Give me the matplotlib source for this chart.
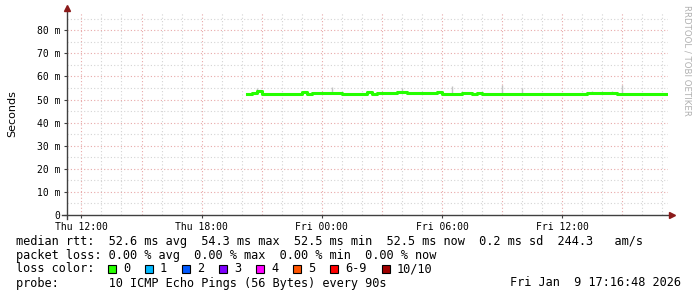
import numpy as np
import matplotlib
matplotlib.use('Agg')
import matplotlib.pyplot as plt
import matplotlib.patches as mpatches

W, H = 697, 297

# time window in hours counted from Thu 00:00
t_start = 11.28
t_end = 41.28
data_start = 20.25      # first sample, Thu 20:15
data_step = 0.25        # 15 min per sample

# median rtt in ms, one value per 15 min
median_ms = [52.4, 52.9, 53.6, 52.5, 52.4, 52.5, 52.4, 52.4, 52.4, 52.4,
             52.6, 53.3, 52.5, 52.9, 52.9, 52.9, 52.9, 52.9, 52.8, 52.5,
             52.5, 52.5, 52.6, 52.5, 53.1, 52.6, 52.9, 52.9, 52.9, 52.9,
             53.4, 53.2, 52.8, 52.8, 52.8, 52.8, 52.8, 52.8, 53.2, 52.5,
             52.4, 52.4, 52.5, 52.8, 52.8, 52.5, 52.8, 52.4, 52.4, 52.4,
             52.4, 52.4, 52.4, 52.4, 52.4, 52.5, 52.4, 52.4, 52.4, 52.4,
             52.4, 52.4, 52.4, 52.4, 52.4, 52.5, 52.4, 52.4, 52.8, 52.8,
             52.8, 52.8, 52.8, 52.8, 52.4, 52.5, 52.4, 52.4, 52.6, 52.6,
             52.5, 52.4, 52.4, 52.4, 52.4]

# smoke spikes (sample index, top in ms)
spike_idx = [2, 17, 31, 41, 51, 55, 69, 73, 75]
spike_top = [54.9, 55.4, 54.8, 56.0, 56.4, 55.0, 53.5, 53.8, 56.4]

yticks = [0, 10, 20, 30, 40, 50, 60, 70, 80]
ytick_labels = ['0', '10 m', '20 m', '30 m', '40 m', '50 m', '60 m', '70 m', '80 m']
xticks = [12, 18, 24, 30, 36]
xtick_labels = ['Thu 12:00', 'Thu 18:00', 'Fri 00:00', 'Fri 06:00', 'Fri 12:00']

loss_names = ['0', '1', '2', '3', '4', '5', '6-9', '10/10']
loss_colors = ['#26ff00', '#00b8ff', '#0059ff', '#7e00ff', '#ff00ff', '#ff5500', '#ff0000', '#a00000']

legend_lines = [
    'median rtt:  52.6 ms avg  54.3 ms max  52.5 ms min  52.5 ms now  0.2 ms sd  244.3   am/s',
    'packet loss: 0.00 % avg  0.00 % max  0.00 % min  0.00 % now',
    'loss color:',
    'probe:       10 ICMP Echo Pings (56 Bytes) every 90s',
]
stamp = 'Fri Jan  9 17:16:48 2026'

mono = 'DejaVu Sans Mono'
fs_leg = 8.55
fig = plt.figure(figsize=(W / 100, H / 100), dpi=100)
fig.patch.set_facecolor('white')

x0, x1, ytop, ybot = 67, 668, 12, 215
ax = fig.add_axes([x0 / W, 1 - ybot / H, (x1 - x0) / W, (ybot - ytop) / H])
ax.set_xlim(t_start, t_end)
ax.set_ylim(0, 87.9)
for s in ax.spines.values():
    s.set_visible(False)

# grid
for h in range(12, 42):
    major = (h % 3 == 0)
    ax.axvline(h, color='#e8a8a8' if major else '#d4d4d4', lw=0.8, ls=(0, (1, 2)), zorder=0)
for v in range(5, 88, 5):
    major = (v % 10 == 0)
    ax.axhline(v, color='#e8a8a8' if major else '#d4d4d4', lw=0.8, ls=(0, (1, 2)), zorder=0)

# data
t = data_start + data_step * np.arange(len(median_ms))
med = np.array(median_ms)
ts = t[spike_idx]
ax.vlines(ts, med[spike_idx], spike_top, color='#c4c4c4', lw=1.0, zorder=2)
ax.step(np.append(t, t[-1] + data_step * 0.1), np.append(med, med[-1]), where='post',
        color='#26ff00', lw=2.2, zorder=3)

# axes lines with arrows
ax.plot([t_start - 0.25, t_end + 0.2], [0, 0], color='#404040', lw=1, clip_on=False, zorder=4)
ax.plot([t_start, t_start], [-1.7, 89.5], color='#404040', lw=1, clip_on=False, zorder=4)
ax.plot([t_end + 0.2], [0], marker='>', color='#8b1a1a', ms=4, clip_on=False, zorder=5)
ax.plot([t_start], [89.5], marker='^', color='#8b1a1a', ms=4, clip_on=False, zorder=5)

ax.set_xticks(xticks)
ax.set_xticklabels(xtick_labels, fontfamily=mono, fontsize=7)
ax.set_yticks(yticks)
ax.set_yticklabels(ytick_labels, fontfamily=mono, fontsize=7)
ax.tick_params(axis='both', length=2, color='#404040', pad=3)
ax.set_ylabel('Seconds', fontsize=8)
ax.yaxis.set_label_coords(-0.083, 0.5)

fig.text(687 / W, 1 - 5 / H, 'RRDTOOL / TOBI OETIKER', rotation=270, fontsize=6.2,
         color='#b0b0b0', ha='center', va='top')

def fy(y):
    return 1 - y / H

for i, line in enumerate(legend_lines):
    fig.text(16 / W, fy(241 + 14 * i), line, fontfamily=mono, fontsize=fs_leg, va='center', ha='left')
fig.text(681 / W, fy(283), stamp, fontfamily=mono, fontsize=fs_leg, va='center', ha='right')

for i, (name, col) in enumerate(zip(loss_names, loss_colors)):
    sx = 108 + 37 * i + (15 if i == 7 else 0)
    fig.patches.append(mpatches.Rectangle((sx / W, fy(273)), 8 / W, 8 / H, transform=fig.transFigure,
                                          facecolor=col, edgecolor='black', lw=0.8))
    fig.text((sx + 15) / W, fy(269), name, fontfamily=mono, fontsize=fs_leg, va='center', ha='left')

fig.savefig('out.png', dpi=100)
